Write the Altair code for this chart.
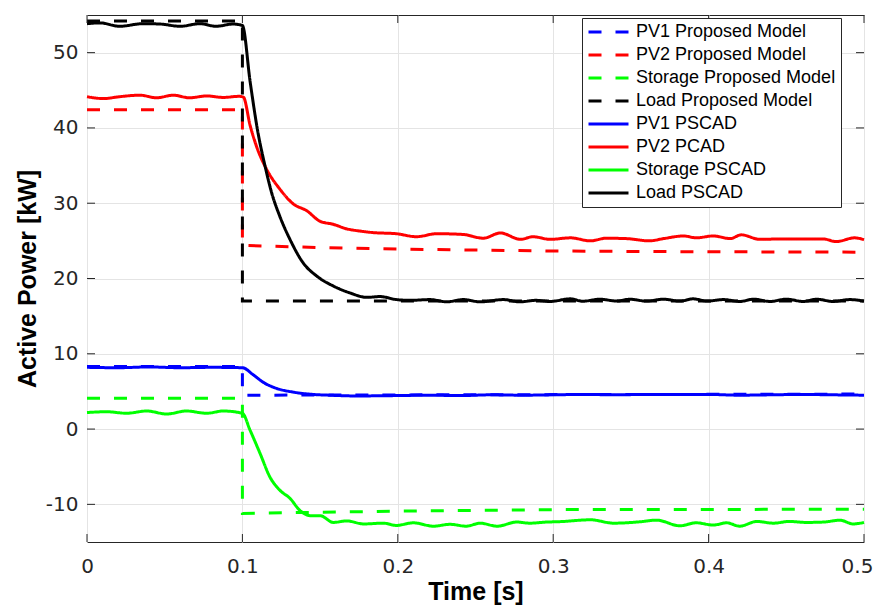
import altair as alt
import pandas as pd

SERIES = ["PV1 Proposed Model", "PV2 Proposed Model", "Storage Proposed Model", "Load Proposed Model",
          "PV1 PSCAD", "PV2 PCAD", "Storage PSCAD", "Load PSCAD"]
COLORS = ["#0000FF", "#FF0000", "#00FF00", "#000000", "#0000FF", "#FF0000", "#00FF00", "#000000"]
DASHES = [[13, 14], [13, 14], [13, 14], [13, 14], [1, 0], [1, 0], [1, 0], [1, 0]]

X_TICKS = [0, 0.1, 0.2, 0.3, 0.4, 0.5]
Y_TICKS = [-10, 0, 10, 20, 30, 40, 50]

# Proposed model (dashed)
pv1_model_t = [0.0, 0.1, 0.1, 0.5]
pv1_model_v = [8.3, 8.3, 4.5, 4.65]
pv2_model_t = [0.0, 0.1, 0.1, 0.15, 0.2, 0.3, 0.4, 0.5]
pv2_model_v = [42.4, 42.4, 24.4, 24.1, 23.9, 23.65, 23.55, 23.5]
sto_model_t = [0.0, 0.1, 0.1, 0.2, 0.3, 0.5]
sto_model_v = [4.1, 4.1, -11.2, -10.9, -10.7, -10.65]
load_model_t = [0.0, 0.1, 0.1, 0.5]
load_model_v = [54.2, 54.2, 17.0, 17.0]

# PSCAD (solid)
pv1_pscad_t = [0, 0.02, 0.04, 0.06, 0.08, 0.1, 0.107, 0.1135, 0.122, 0.133, 0.1456, 0.156, 0.1735, 0.2,
               0.22, 0.24, 0.26, 0.28, 0.3, 0.32, 0.34, 0.36, 0.38, 0.4, 0.42, 0.44, 0.46, 0.48, 0.5]
pv1_pscad_v = [8.2, 8.15, 8.25, 8.15, 8.2, 8.15, 7.2, 6.2, 5.4, 4.9, 4.6, 4.5, 4.4, 4.45,
               4.5, 4.45, 4.55, 4.5, 4.55, 4.6, 4.55, 4.6, 4.6, 4.6, 4.5, 4.55, 4.6, 4.55, 4.5]

pv2_pscad_t = [0, 0.0105, 0.021, 0.034, 0.0448, 0.0555, 0.066, 0.077, 0.0877, 0.098,
               0.1006, 0.105, 0.109, 0.1156, 0.124, 0.1328, 0.1414, 0.15, 0.1585, 0.167,
               0.1757, 0.184, 0.199, 0.212, 0.225, 0.242, 0.255, 0.266, 0.279, 0.287,
               0.298, 0.311, 0.324, 0.334, 0.347, 0.362, 0.371, 0.384, 0.392, 0.403,
               0.414, 0.421, 0.433, 0.446, 0.461, 0.474, 0.482, 0.494, 0.5]
pv2_pscad_v = [44.15, 43.9, 44.15, 44.35, 44.0, 44.35, 44.0, 44.25, 44.05, 44.2,
               44.1, 40.3, 37.6, 34.5, 31.9, 29.9, 29.0, 27.6, 27.2, 26.6,
               26.3, 26.1, 25.95, 25.55, 25.95, 25.85, 25.35, 26.05, 25.2, 25.55,
               25.2, 25.4, 25.0, 25.35, 25.3, 25.0, 25.3, 25.65, 25.4, 25.65,
               25.3, 25.8, 25.2, 25.25, 25.25, 25.25, 24.9, 25.4, 25.15]

sto_pscad_t = [0, 0.0127, 0.0255, 0.0384, 0.0513, 0.064, 0.077, 0.0877, 0.1,
               0.1049, 0.1113, 0.1178, 0.124, 0.1306, 0.137, 0.1435, 0.15, 0.1585, 0.167,
               0.178, 0.1907, 0.199, 0.21, 0.223, 0.2336, 0.244, 0.253, 0.264, 0.2765,
               0.285, 0.296, 0.304, 0.324, 0.339, 0.354, 0.3666, 0.3816, 0.392, 0.403,
               0.4116, 0.42, 0.431, 0.4417, 0.452, 0.463, 0.474, 0.4846, 0.493, 0.5]
sto_pscad_v = [2.2, 2.3, 2.1, 2.4, 2.0, 2.4, 2.1, 2.4, 2.1,
               -0.13, -3.2, -6.4, -8.1, -9.2, -10.8, -11.5, -11.5, -12.4, -12.2,
               -12.6, -12.5, -12.8, -12.45, -12.9, -12.65, -12.9, -12.5, -12.9, -12.35,
               -12.5, -12.35, -12.3, -12.05, -12.5, -12.35, -12.1, -12.85, -12.45, -12.75,
               -12.45, -12.9, -12.27, -12.5, -12.27, -12.4, -12.35, -12.1, -12.6, -12.4]

load_pscad_t = [0, 0.0084, 0.021, 0.036, 0.047, 0.06, 0.0727, 0.083, 0.094, 0.1,
                0.105, 0.11, 0.1145, 0.1188, 0.124, 0.1306, 0.139, 0.148, 0.1585, 0.169,
                0.18, 0.1885, 0.199, 0.208, 0.2207, 0.2315, 0.242, 0.253, 0.268, 0.2786,
                0.289, 0.298, 0.311, 0.319, 0.33, 0.341, 0.349, 0.36, 0.371, 0.3816,
                0.39, 0.399, 0.4095, 0.42, 0.429, 0.4395, 0.45, 0.461, 0.4695, 0.48,
                0.491, 0.5]
load_pscad_v = [53.85, 53.95, 53.5, 53.85, 53.8, 53.5, 53.85, 53.5, 53.8, 53.6,
                46.1, 39.4, 35.0, 31.4, 28.3, 25.2, 22.1, 20.3, 19.0, 18.1,
                17.5, 17.6, 17.2, 17.1, 17.2, 16.9, 17.2, 16.9, 17.2, 16.9,
                17.1, 16.95, 17.3, 16.98, 17.25, 17.0, 17.25, 17.0, 17.25, 17.0,
                17.3, 17.0, 17.2, 16.95, 17.25, 16.95, 17.25, 16.95, 17.25, 16.95,
                17.2, 17.0]


def frame(pairs):
    rows = []
    for name, ts, vs in pairs:
        assert len(ts) == len(vs), name
        for i, (t, v) in enumerate(zip(ts, vs)):
            rows.append({"series": name, "t": t, "v": v, "i": i})
    return pd.DataFrame(rows)


dashed_df = frame([
    (SERIES[0], pv1_model_t, pv1_model_v),
    (SERIES[1], pv2_model_t, pv2_model_v),
    (SERIES[2], sto_model_t, sto_model_v),
    (SERIES[3], load_model_t, load_model_v),
])
solid_df = frame([
    (SERIES[4], pv1_pscad_t, pv1_pscad_v),
    (SERIES[5], pv2_pscad_t, pv2_pscad_v),
    (SERIES[6], sto_pscad_t, sto_pscad_v),
    (SERIES[7], load_pscad_t, load_pscad_v),
])

W, H = 777, 527
TICK = 8
AX = "#262626"

xscale = alt.Scale(domain=[0, 0.5], nice=False, zero=False)
yscale = alt.Scale(domain=[-15, 55], nice=False, zero=False)

x_enc = alt.X("t:Q", scale=xscale,
              axis=alt.Axis(values=X_TICKS, title="Time [s]", labelExpr="'' + datum.value",
                            labelPadding=14, titlePadding=3, labelFlush=False,
                            labelOffset={"condition": {"test": "datum.value >= 0.5", "value": -7},
                                         "value": 0}))
y_enc = alt.Y("v:Q", scale=yscale,
              axis=alt.Axis(values=Y_TICKS, title="Active Power [kW]", labelExpr="'' + datum.value",
                            labelPadding=9, titlePadding=5, labelFlush=False))
color_enc = alt.Color("series:N", scale=alt.Scale(domain=SERIES, range=COLORS), title=None)
dash_enc = alt.StrokeDash("series:N", scale=alt.Scale(domain=SERIES, range=DASHES), title=None)

dashed = alt.Chart(dashed_df).mark_line(strokeWidth=3).encode(
    x=x_enc, y=y_enc, color=color_enc, strokeDash=dash_enc, order="i:Q")
solid = alt.Chart(solid_df).mark_line(strokeWidth=3, interpolate="monotone").encode(
    x=x_enc, y=y_enc, color=color_enc, strokeDash=dash_enc, order="i:Q")

yt = pd.DataFrame({"v": Y_TICKS})
xt = pd.DataFrame({"t": X_TICKS})
tick_style = dict(color=AX, strokeWidth=1)
ytick_l = alt.Chart(yt).mark_rule(**tick_style).encode(
    y=y_enc, x=alt.value(0), x2=alt.value(TICK))
ytick_r = alt.Chart(yt).mark_rule(**tick_style).encode(
    y=y_enc, x=alt.value(W - TICK), x2=alt.value(W))
xtick_b = alt.Chart(xt).mark_rule(**tick_style).encode(
    x=x_enc, y=alt.value(H), y2=alt.value(H - TICK))
xtick_t = alt.Chart(xt).mark_rule(**tick_style).encode(
    x=x_enc, y=alt.value(0), y2=alt.value(TICK))

chart = alt.layer(dashed, solid, ytick_l, ytick_r, xtick_b, xtick_t).properties(
    width=W, height=H,
    autosize=alt.AutoSizeParams(type="none"),
    padding={"left": 79, "top": 7, "right": 10, "bottom": 64},
    background="white",
).configure_view(
    stroke=AX, strokeWidth=1
).configure_axis(
    domain=False, ticks=False, grid=True, gridColor="#e4e4e4", gridWidth=1,
    labelFont="DejaVu Sans", labelFontSize=20, labelColor=AX,
    titleFont="Liberation Sans", titleFontSize=25, titleFontWeight="bold", titleColor="#000000",
).configure_legend(
    orient="none", legendX=495, legendY=3,
    symbolType="stroke", symbolSize=1600, symbolStrokeWidth=3,
    labelFont="Liberation Sans", labelFontSize=18, labelColor="#000000", labelLimit=400,
    labelOffset=6, clipHeight=18, rowPadding=5, padding=5,
    strokeColor=AX, fillColor="#ffffff", cornerRadius=0,
)

chart.save("out.html", embed_options={"renderer": "svg", "actions": False})
